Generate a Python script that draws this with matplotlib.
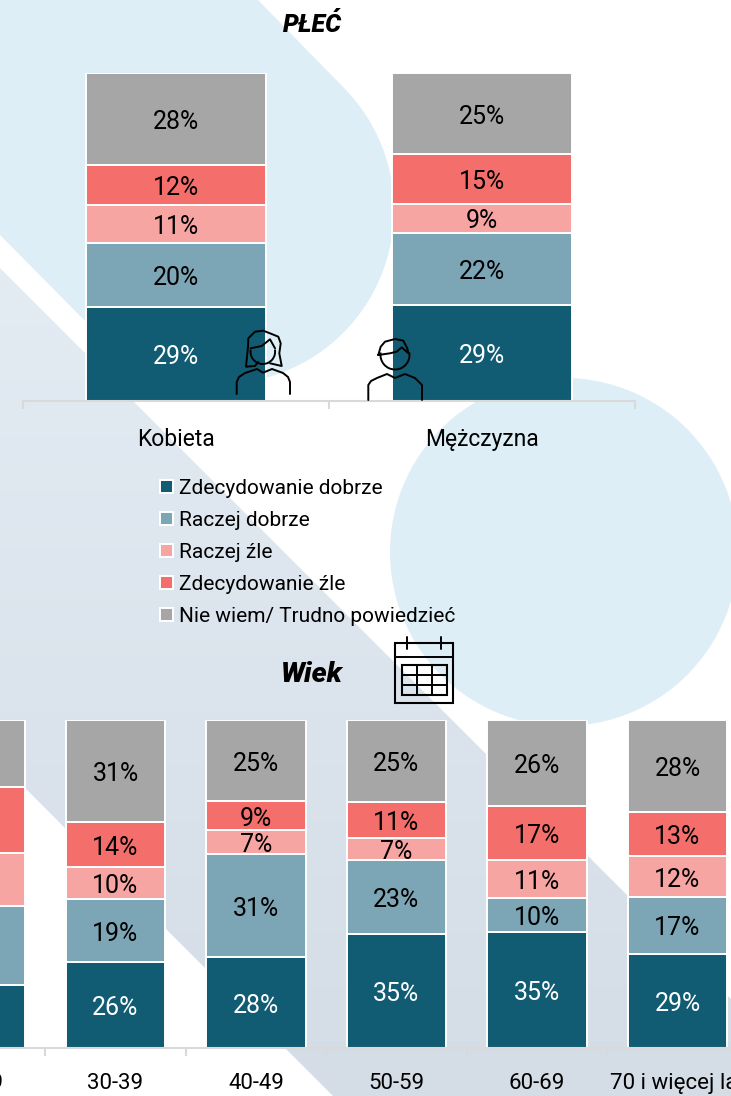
import numpy as np
import matplotlib
matplotlib.use('Agg')
import matplotlib.pyplot as plt
from matplotlib.patches import Arc, Circle, Polygon, Rectangle

# --- data ---
series_names = ['Zdecydowanie dobrze', 'Raczej dobrze', 'Raczej źle', 'Zdecydowanie źle', 'Nie wiem/ Trudno powiedzieć']
series_colors = ['#125C73', '#7CA6B5', '#F6A5A3', '#F46F6B', '#A6A6A6']
label_colors = ['white', 'black', 'black', 'black', 'black']

gender_labels = ['Kobieta', 'Mężczyzna']
gender_values = [
    [28.7, 29.3],
    [19.6, 22.0],
    [11.4, 8.8],
    [12.2, 15.2],
    [28.1, 24.7],
]

age_labels = ['18-29', '30-39', '40-49', '50-59', '60-69', '70 i więcej lat']
age_values = [
    [19.2, 26.2, 27.6, 34.7, 35.4, 28.7],
    [24.1, 19.2, 31.4, 22.6, 10.4, 17.4],
    [16.2, 9.8, 7.4, 6.7, 11.4, 12.4],
    [20.1, 13.6, 8.9, 11.0, 16.6, 13.4],
    [20.4, 31.2, 24.7, 25.0, 26.2, 28.1],
]

W, H = 731, 1096
FONT = 'Roboto'
plt.rcParams['font.family'] = [FONT, 'DejaVu Sans']

fig = plt.figure(figsize=(W / 100, H / 100), dpi=100, facecolor='white')


def px_axes(left, top, right, bottom, **kw):
    # axes placed with pixel edges, y counted from the top of the image
    return fig.add_axes([left / W, 1 - bottom / H, (right - left) / W, (bottom - top) / H], **kw)


# --- background shapes ---
bg = px_axes(0, 0, W, H, zorder=0)
bg.axis('off')
blue = '#DEEEF6'
bg.add_patch(Polygon([(0, 0), (258, 0), (343, 87), (97, 333), (0, 235)], fc=blue, ec='none'))
bg.add_patch(Circle((220, 210), 174, fc=blue, ec='none'))
bg.add_patch(Circle((564, 552), 174, fc=blue, ec='none'))
band = Polygon([(0, 268), (828, 1096), (333, 1096), (0, 763)], fc='none', ec='none')
bg.add_patch(band)
grad = np.linspace(0, 1, 256).reshape(-1, 1)
cmap = matplotlib.colors.LinearSegmentedColormap.from_list('band', ['#E3ECF3', '#D4DDE6'])
im = bg.imshow(grad, extent=(0, W, H, 268), cmap=cmap, aspect='auto', zorder=0.5)
im.set_clip_path(band)
bg.set_xlim(0, W)
bg.set_ylim(H, 0)


def stacked(ax, labels, values, width, fontsize, tick_fontsize, pad):
    x = np.arange(len(labels))
    bottom = np.zeros(len(labels))
    for name, vals, color, lab_color in zip(series_names, values, series_colors, label_colors):
        bars = ax.bar(x, vals, width, bottom=bottom, color=color, edgecolor='white', linewidth=1.4, label=name)
        texts = ax.bar_label(bars, labels=[f'{v:.0f}%' for v in vals], label_type='center', color=lab_color,
                             fontsize=fontsize)
        for t in texts:
            t.xyann = (0, -2.2)
        bottom += np.array(vals)
    ax.set_xlim(-0.5, len(labels) - 0.5)
    ax.set_ylim(0, 100)
    ax.patch.set_alpha(0)
    for s in ['top', 'left', 'right']:
        ax.spines[s].set_visible(False)
    ax.spines['bottom'].set_color('#D9D9D9')
    ax.spines['bottom'].set_linewidth(1.5)
    ax.yaxis.set_visible(False)
    ax.set_xticks(np.arange(len(labels) + 1) - 0.5)
    ax.set_xticklabels([])
    ax.tick_params(axis='x', which='major', length=6, width=1.5, color='#D9D9D9')
    ax.set_xticks(x, minor=True)
    ax.set_xticklabels(labels, minor=True, fontsize=tick_fontsize)
    ax.tick_params(axis='x', which='minor', length=0, pad=pad)


# --- gender panel ---
ax1 = px_axes(23, 73, 635, 401, zorder=2)
stacked(ax1, gender_labels, gender_values, 0.588, 18, 16.5, 19.7)

# --- age panel ---
ax2 = px_axes(-95.25, 720, 747.75, 1048, zorder=2)
stacked(ax2, age_labels, age_values, 0.705, 18, 16, 18.2)

# --- legend ---
handles, names = ax1.get_legend_handles_labels()
leg = ax1.legend(handles, names, loc='upper left', bbox_to_anchor=(160 / W, 1 - 479 / H), bbox_transform=fig.transFigure,
                 frameon=False, handlelength=0.63, handleheight=0.63, handletextpad=0.28,
                 labelspacing=0.62, borderpad=0, borderaxespad=0, prop={'family': FONT, 'size': 15})

# --- overlay: titles and icons ---
top = px_axes(0, 0, W, H, zorder=3)
top.set_xlim(0, W)
top.set_ylim(H, 0)
top.axis('off')
top.text(312, 25, 'PŁEĆ', ha='center', va='center', fontsize=18, fontweight='heavy', fontstyle='italic', color='black')
top.text(312, 674, 'Wiek', ha='center', va='center', fontsize=20.5, fontweight='heavy', fontstyle='italic', color='black')

icon = dict(color='black', lw=1.4, solid_capstyle='round', solid_joinstyle='round')
# woman
top.plot([236.7, 236.7, 239, 245, 257, 263, 272, 283, 288, 290, 290],
         [394, 382, 377, 373, 369, 372.7, 369, 373, 377, 382, 394], **icon)
top.add_patch(Arc((262.8, 351.7), 24.6, 24.6, theta1=-10, theta2=190, ec='black', lw=1.4))
top.plot([258, 255, 246, 248, 248.3, 255, 263.3, 271.7, 278.3, 280.7, 279.3, 281.7, 270],
         [362, 366, 366.7, 346.7, 338.3, 331.7, 330.7, 334, 336.7, 343.3, 353.3, 366, 363.3], **icon)
top.plot([250.7, 261.7, 270, 275], [348.3, 346, 339.3, 348.3], **icon)
# man
top.plot([368.3, 368.3, 371, 377, 387, 395, 405, 415, 422, 422],
         [400, 385, 381, 378, 374, 378, 374, 378, 385, 400], **icon)
top.add_patch(Arc((395, 355), 29, 29, theta1=-10, theta2=190, ec='black', lw=1.4))
top.plot([378.3, 380.7, 385, 395, 403.3, 407.3, 408.3, 401.7, 396.7, 390, 378.3],
         [355, 346.7, 341.7, 339, 340.7, 348.3, 353.3, 347.3, 351.7, 353.3, 355], **icon)
# calendar
top.add_patch(Rectangle((395, 643.3), 58.3, 59.4, fc='none', ec='black', lw=1.5))
top.plot([395, 453.3], [656.7, 656.7], **icon)
top.plot([407.3, 407.3], [636.7, 649.3], **icon)
top.plot([440.7, 440.7], [636.7, 649.3], **icon)
top.add_patch(Rectangle((401.7, 665), 45, 30, fc='none', ec='black', lw=1.5))
top.plot([401.7, 446.7], [675, 675], **icon)
top.plot([401.7, 446.7], [685, 685], **icon)
top.plot([416.7, 416.7], [665, 695], **icon)
top.plot([431.7, 431.7], [665, 695], **icon)

fig.savefig('out.png', dpi=100)
